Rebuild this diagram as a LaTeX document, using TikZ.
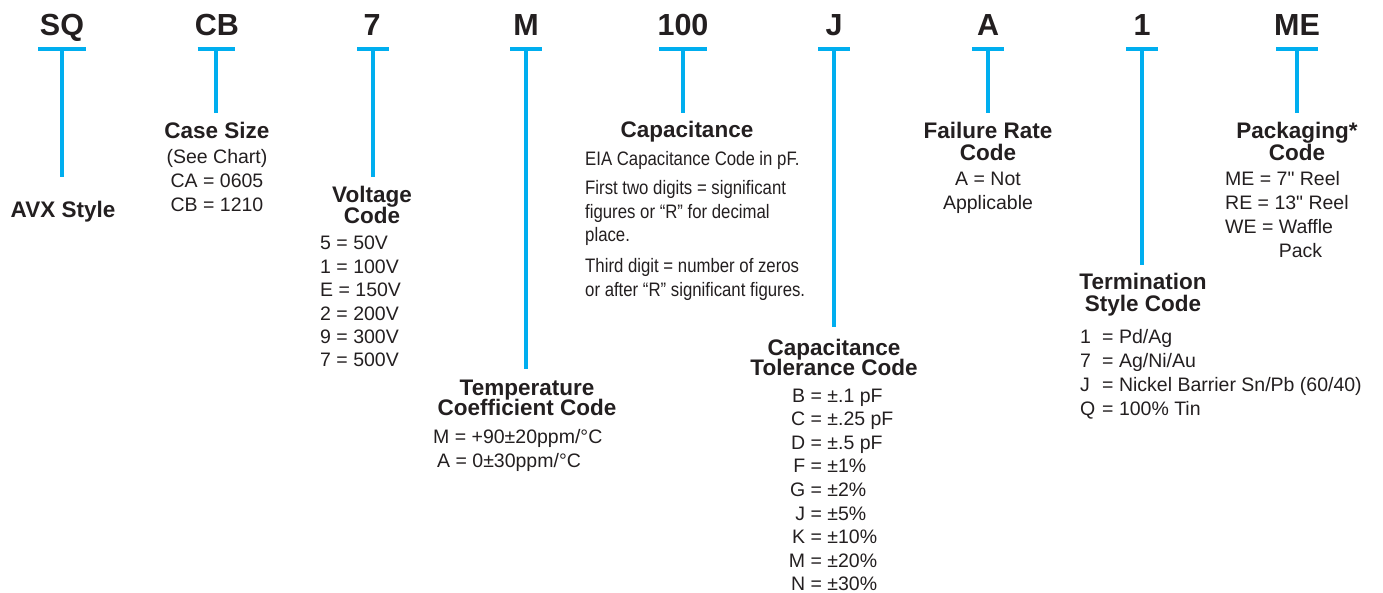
\documentclass[tikz,border=0pt]{standalone}
\usepackage{fontspec}
\setmainfont{Liberation Sans}
\newfontfamily\condfont{Liberation Sans}[FakeStretch=0.86]
\newfontfamily\qfont{Liberation Sans}
\definecolor{avxblue}{HTML}{00AEEF}
\definecolor{ink}{HTML}{231F20}
\newcommand\cbox[1]{\parbox[t]{400pt}{\centering\lineskiplimit=-\maxdimen #1}}
\newcommand\lbox[1]{\parbox[t]{400pt}{\raggedright\lineskiplimit=-\maxdimen #1}}
\newcommand\rk[1]{\makebox[17pt][r]{#1}}
\newcommand\lk[1]{\makebox[22pt][l]{#1}}
\newcommand\inch{{\qfont\char"22}}
\begin{document}
\begin{tikzpicture}[x=1pt,y=1pt,
  hdr/.style={font=\fontsize{30.5}{30}\selectfont\bfseries, text=ink, inner sep=0pt, anchor=base},
  ttl/.style={font=\fontsize{22.5}{21}\selectfont\bfseries, text=ink, inner sep=0pt, anchor=base},
  body/.style={font=\fontsize{19.5}{23.6}\selectfont, text=ink, inner sep=0pt, anchor=base},
  lbody/.style={body, anchor=base west},
  barline/.style={draw=avxblue, line width=4pt},
  stem/.style={draw=avxblue, line width=4pt}]
\useasboundingbox (0,0) rectangle (1383,-593);

% headers
\node[hdr] (hSQ) at (62,-36) {SQ};
\node[hdr] (hCB) at (217,-36) {CB};
\node[hdr] (h7) at (372,-36) {7};
\node[hdr] (hM) at (526,-36) {M};
\node[hdr] (h100) at (683,-36) {100};
\node[hdr] (hJ) at (834,-36) {J};
\node[hdr] (hA) at (988,-36) {A};
\node[hdr] (h1) at (1142,-36) {1};
\node[hdr] (hME) at (1297,-36) {ME};

% bar coordinates and stem ends
\coordinate (bSQ) at (62,-49);   \coordinate (eSQ) at (62,-177);
\coordinate (bCB) at (216,-49);  \coordinate (eCB) at (216,-113);
\coordinate (b7) at (373,-49);   \coordinate (e7) at (373,-177);
\coordinate (bM) at (526,-49);   \coordinate (eM) at (526,-369);
\coordinate (b100) at (683,-49); \coordinate (e100) at (683,-113);
\coordinate (bJ) at (834,-49);   \coordinate (eJ) at (834,-327);
\coordinate (bA) at (988,-49);   \coordinate (eA) at (988,-113);
\coordinate (b1) at (1142,-49);  \coordinate (e1) at (1142,-265);
\coordinate (bME) at (1297,-49); \coordinate (eME) at (1297,-113);

\draw[barline] ([xshift=-24pt]bSQ) -- ([xshift=24pt]bSQ);
\draw[barline] ([xshift=-18.5pt]bCB) -- ([xshift=18.5pt]bCB);
\draw[barline] ([xshift=-16pt]b7) -- ([xshift=16pt]b7);
\draw[barline] ([xshift=-16pt]bM) -- ([xshift=16pt]bM);
\draw[barline] ([xshift=-24pt]b100) -- ([xshift=24pt]b100);
\draw[barline] ([xshift=-16pt]bJ) -- ([xshift=16pt]bJ);
\draw[barline] ([xshift=-16pt]bA) -- ([xshift=16pt]bA);
\draw[barline] ([xshift=-16pt]b1) -- ([xshift=16pt]b1);
\draw[barline] ([xshift=-21pt]bME) -- ([xshift=21pt]bME);

\draw[stem] (bSQ) -- (eSQ);
\draw[stem] (bCB) -- (eCB);
\draw[stem] (b7) -- (e7);
\draw[stem] (bM) -- (eM);
\draw[stem] (b100) -- (e100);
\draw[stem] (bJ) -- (eJ);
\draw[stem] (bA) -- (eA);
\draw[stem] (b1) -- (e1);
\draw[stem] (bME) -- (eME);

% SQ
\node[ttl] (tSQ) at (63,-218) {\cbox{AVX Style}};
% CB
\node[ttl] (tCB) at (217,-139) {\cbox{Case Size}};
\node[body, font=\fontsize{19.5}{24}\selectfont] (lCB) at (217,-164) {\cbox{(See Chart)\\CA = 0605\\CB = 1210}};
% 7
\node[ttl] (t7) at (372,-203) {\cbox{Voltage\\Code}};
\node[lbody, font=\fontsize{19.5}{23.4}\selectfont] (l7) at (320,-250) {\lbox{5 = 50V\\1 = 100V\\E = 150V\\2 = 200V\\9 = 300V\\7 = 500V}};
% M
\node[ttl, font=\fontsize{22.5}{20.5}\selectfont\bfseries] (tM) at (527,-395) {\cbox{Temperature\\Coefficient Code}};
\node[lbody, font=\fontsize{19.5}{24}\selectfont] (lM) at (433,-443) {\lbox{M = +90±20ppm/°C\\\hspace*{4pt}A = 0±30ppm/°C}};
% 100
\node[ttl] (t100) at (687,-138) {\cbox{Capacitance}};
\node[lbody, font=\fontsize{19.5}{23.5}\selectfont\condfont] (l100) at (585,-166) {\lbox{EIA Capacitance Code in pF.\\[5.5pt]First two digits = significant\\figures or “R” for decimal\\place.\\[7.5pt]Third digit = number of zeros\\or after “R” significant figures.}};
% J
\node[ttl, font=\fontsize{22.5}{20.5}\selectfont\bfseries] (tJ) at (834,-355) {\cbox{Capacitance\\Tolerance Code}};
\node[lbody] (lJ) at (788,-402) {\lbox{\rk{B} = ±.1 pF\\\rk{C} = ±.25 pF\\\rk{D} = ±.5 pF\\\rk{F} = ±1\%\\\rk{G} = ±2\%\\\rk{J} = ±5\%\\\rk{K} = ±10\%\\\rk{M} = ±20\%\\\rk{N} = ±30\%}};
% A
\node[ttl, font=\fontsize{22.5}{22}\selectfont\bfseries] (tA) at (988,-139) {\cbox{Failure Rate\\Code}};
\node[body, font=\fontsize{19.5}{24}\selectfont] (lA) at (988,-186) {\cbox{A = Not\\Applicable}};
% 1
\node[ttl, font=\fontsize{22.5}{22}\selectfont\bfseries] (t1) at (1143,-290) {\cbox{Termination\\Style Code}};
\node[lbody, font=\fontsize{19.5}{23.7}\selectfont] (l1) at (1080,-344) {\lbox{\lk{1}= Pd/Ag\\\lk{7}= Ag/Ni/Au\\\lk{J}= Nickel Barrier Sn/Pb (60/40)\\\lk{Q}= 100\% Tin}};
% ME
\node[ttl, font=\fontsize{22.5}{22}\selectfont\bfseries] (tME) at (1297,-139) {\cbox{Packaging*\\Code}};
\node[lbody, font=\fontsize{19.5}{23.7}\selectfont] (lME) at (1225,-186) {\lbox{ME = 7\inch{} Reel\\RE = 13\inch{} Reel\\WE = Waffle\\\phantom{WE = }Pack}};
\end{tikzpicture}
\end{document}
